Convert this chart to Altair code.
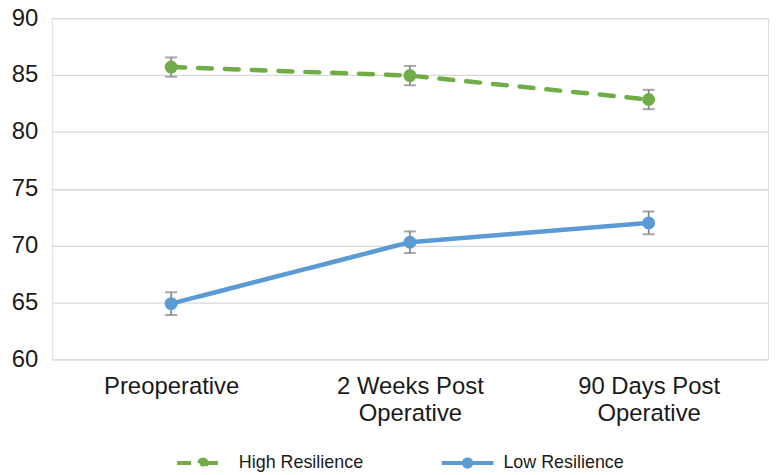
import altair as alt
import pandas as pd

timepoints = ["Preoperative", "2 Weeks Post|Operative", "90 Days Post|Operative"]
series = ["High Resilience", "Low Resilience"]
high_mean = [85.7, 84.95, 82.85]
high_err = [0.85, 0.85, 0.85]
low_mean = [64.9, 70.3, 72.0]
low_err = [1.0, 0.95, 1.0]
colors = ["#70ad47", "#5b9bd5"]

rows = []
for name, means, errs in [(series[0], high_mean, high_err), (series[1], low_mean, low_err)]:
    for t, m, e in zip(timepoints, means, errs):
        rows.append({"time": t, "series": name, "mean": m, "lo": m - e, "hi": m + e})
df = pd.DataFrame(rows)

FONT = "Liberation Sans"
color_scale = alt.Scale(domain=series, range=colors)
dash_scale = alt.Scale(domain=series, range=[[14, 13], [1, 0]])

x = alt.X("time:N", sort=timepoints, title=None,
          scale=alt.Scale(type="point", padding=0.5),
          axis=alt.Axis(labelExpr="split(datum.label, '|')", labelAngle=0,
                        labelFontSize=24, labelFont=FONT, labelColor="#1a1a1a",
                        labelPadding=15, labelLineHeight=27, domain=False, ticks=False,
                        grid=False))
y_axis = alt.Axis(values=[60, 65, 70, 75, 80, 85, 90], labelFontSize=24, labelFont=FONT,
                  labelColor="#1a1a1a", labelPadding=14, domain=False, ticks=False,
                  grid=True, gridColor="#d9d9d9", gridWidth=1.3)
y = alt.Y("mean:Q", title=None, scale=alt.Scale(domain=[60, 90], nice=False), axis=y_axis)

legend = alt.Legend(
    title=None, orient="none", legendX=124, legendY=419, direction="horizontal",
    symbolType="M-1,0L1,0M-0.14,0A0.14,0.14,0,1,1,0.14,0A0.14,0.14,0,1,1,-0.14,0Z",
    symbolSize=2704, symbolStrokeWidth=4, labelFontSize=18, labelFont=FONT,
    labelColor="#1a1a1a", labelOffset=8, columnPadding=70, padding=0,
    symbolOpacity=1,
)

base = alt.Chart(df)

lines = base.mark_line(strokeWidth=4.5, strokeCap="round").encode(
    x=x, y=y,
    color=alt.Color("series:N", scale=color_scale, legend=legend),
    strokeDash=alt.StrokeDash("series:N", scale=dash_scale, legend=legend),
    detail="series:N",
)

rules = base.mark_rule(color="#808080", strokeWidth=1.6).encode(
    x=x, y=alt.Y("lo:Q", scale=alt.Scale(domain=[60, 90], nice=False), axis=y_axis, title=None),
    y2="hi:Q",
)
caps_lo = base.mark_tick(color="#808080", size=12, thickness=2).encode(
    x=x, y=alt.Y("lo:Q", title=None)
)
caps_hi = base.mark_tick(color="#808080", size=12, thickness=2).encode(
    x=x, y=alt.Y("hi:Q", title=None)
)

points = base.mark_point(filled=True, size=170, opacity=1, strokeWidth=0).encode(
    x=x, y=y,
    color=alt.Color("series:N", scale=color_scale, legend=legend),
    strokeDash=alt.StrokeDash("series:N", scale=dash_scale, legend=legend),
)

chart = alt.layer(lines, rules, caps_lo, caps_hi, points).properties(
    width=720, height=343,
    autosize=alt.AutoSizeParams(type="none"),
    padding={"left": 44, "top": 9, "right": 4, "bottom": 113},
).configure_view(stroke=None).configure(background="white")

chart.save("out.html", embed_options={"renderer": "svg", "actions": False})
